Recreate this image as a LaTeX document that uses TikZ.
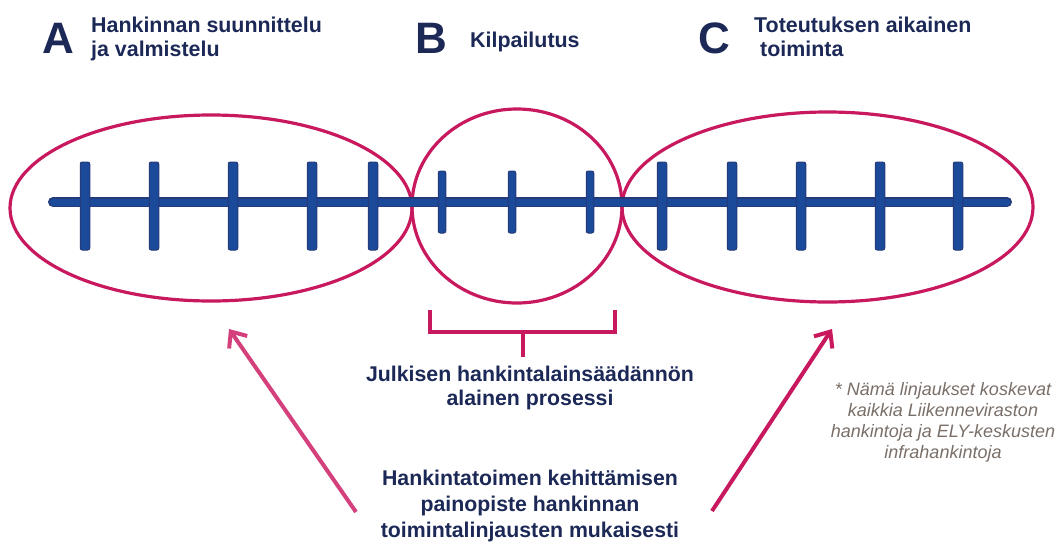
\documentclass[tikz,border=0pt]{standalone}
\usepackage{fontspec}
\setmainfont{Liberation Sans}
\usetikzlibrary{shapes.geometric,arrows.meta}
\definecolor{navy}{HTML}{1C2957}
\definecolor{mag}{HTML}{C8185E}
\definecolor{magl}{HTML}{D4407C}
\definecolor{barfill}{HTML}{1B4A9B}
\definecolor{barline}{HTML}{243A7A}
\definecolor{notegray}{HTML}{7A6F68}
\tikzset{
  ring/.style={draw=mag, line width=3.2pt, ellipse, inner sep=0pt},
  tallbar/.style={draw=barline, fill=barfill, line width=1pt, rounded corners=2pt, minimum width=9.5pt, minimum height=88pt, inner sep=0pt},
  shortbar/.style={draw=barline, fill=barfill, line width=1pt, rounded corners=2pt, minimum width=7.5pt, minimum height=62pt, inner sep=0pt},
  bigletter/.style={text=navy, font=\bfseries\fontsize{44}{48}\selectfont, anchor=base west, inner sep=0pt},
  head/.style={text=navy, font=\bfseries\fontsize{21.4}{24}\selectfont, anchor=base west, inner sep=0pt},
  midtext/.style={text=navy, font=\bfseries\fontsize{21.3}{25}\selectfont, anchor=base, inner sep=0pt},
  note/.style={text=notegray, font=\itshape\fontsize{18}{21}\selectfont, anchor=base, inner sep=0pt},
  bracket/.style={draw=mag, line width=3.5pt},
  bigarrow/.style={line width=4pt, -{Straight Barb[length=13pt,width=22pt,line width=4pt]}}
}
\begin{document}
\begin{tikzpicture}[x=1pt,y=-1pt]
\useasboundingbox (0,0) rectangle (1059,541);
% ellipses
\node[ring, minimum width=402pt, minimum height=186pt] (ea) at (211,208) {};
\node[ring, minimum width=210pt, minimum height=194pt] (eb) at (517,206) {};
\node[ring, minimum width=411pt, minimum height=190pt] (ec) at (827.5,207) {};
% main line
\coordinate (L) at (53,202);
\coordinate (R) at (1007,202);
\draw[barline, line width=10pt, line cap=round] (L) -- (R);
\draw[barfill, line width=7pt, line cap=round] (L) -- (R);
% ticks A
\foreach \x [count=\i] in {85,154,233,312,373} {
  \node[tallbar] (ta\i) at (\x,206) {};
}
% ticks B
\foreach \x [count=\i] in {442,512,590} {
  \node[shortbar] (tb\i) at (\x,202) {};
}
% ticks C
\foreach \x [count=\i] in {662,732,801,880,958} {
  \node[tallbar] (tc\i) at (\x,206) {};
}
% headers
\node[bigletter] (la) at (42,53) {A};
\node[head] (ha1) at (91,32) {Hankinnan suunnittelu};
\node[head] (ha2) at (91,56) {ja valmistelu};
\node[bigletter] (lb) at (415,53) {B};
\node[head] (hb) at (470,47) {Kilpailutus};
\node[bigletter] (lc) at (698,53) {C};
\node[head] (hc1) at (754,32) {Toteutuksen aikainen};
\node[head] (hc2) at (760,56) {toiminta};
% bracket
\coordinate (bl) at (430,310);
\coordinate (br) at (615,310);
\coordinate (bm) at (523,332);
\coordinate (bs) at (523,357);
\draw[bracket] (bl) |- (bm) -| (br);
\draw[bracket] (bm) -- (bs);
\node[midtext] (j1) at (530,381) {Julkisen hankintalainsäädännön};
\node[midtext] (j2) at (530,405) {alainen prosessi};
% bottom text
\node[midtext] (k1) at (530,485) {Hankintatoimen kehittämisen};
\node[midtext] (k2) at (530,511) {painopiste hankinnan};
\node[midtext] (k3) at (530,537) {toimintalinjausten mukaisesti};
% arrows
\coordinate (as1) at (356,512);
\coordinate (ae1) at (229,329);
\coordinate (as2) at (712,511);
\coordinate (ae2) at (832,329);
\draw[bigarrow, magl] (as1) -- (ae1);
\draw[bigarrow, mag] (as2) -- (ae2);
% note
\node[note] (n1) at (943,395) {* Nämä linjaukset koskevat};
\node[note] (n2) at (943,416) {kaikkia Liikenneviraston};
\node[note] (n3) at (943,437) {hankintoja ja ELY-keskusten};
\node[note] (n4) at (943,458) {infrahankintoja};
\end{tikzpicture}
\end{document}
